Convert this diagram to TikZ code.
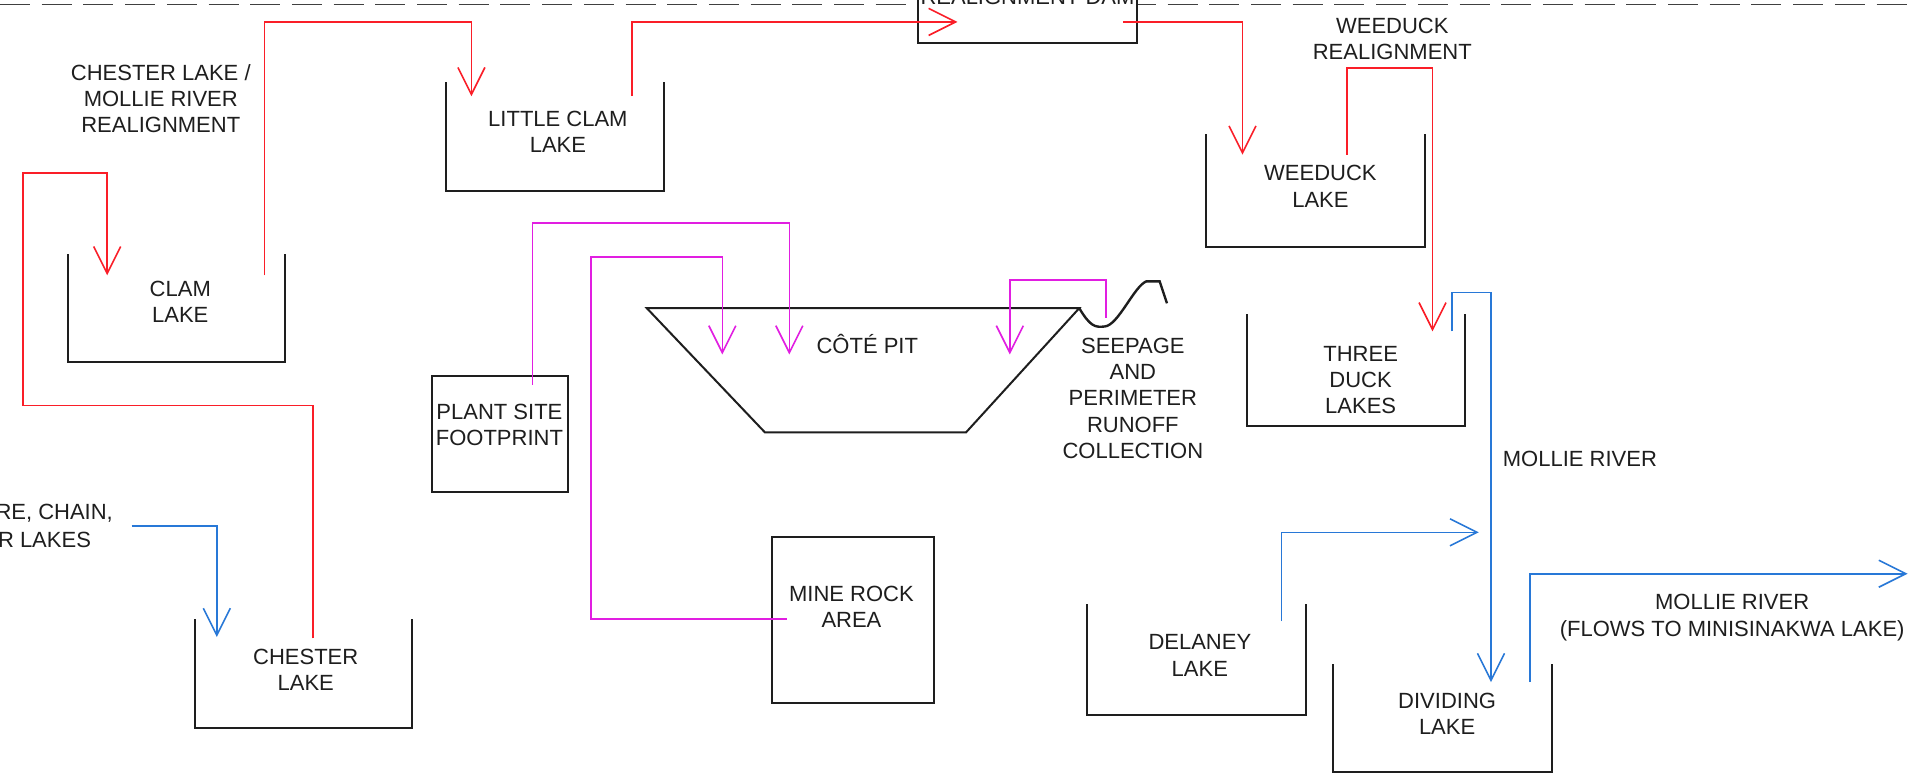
\documentclass[tikz,border=0pt]{standalone}
\usepackage{fontspec}
\setmainfont{Liberation Sans}
\usetikzlibrary{arrows.meta}
\definecolor{flowred}{RGB}{250,30,40}
\definecolor{flowmag}{RGB}{225,30,225}
\definecolor{flowblue}{RGB}{40,120,215}
\definecolor{ink}{RGB}{30,30,30}
\def\myu{0.60906pt}
% name, x1, y1, x2, y2, text x, text y, text
\newcommand\lakenode[8]{%
  \node[minimum width={(#4-#2)*\myu}, minimum height={(#5-#3)*\myu}, inner sep=0pt, outer sep=0pt]
    (#1) at ({(#2+#4)/2},{(#3+#5)/2}) {};
  \draw[lakeline] (#1.north west) -- (#1.south west) -- (#1.south east) -- (#1.north east);
  \node[lbl] (#1lbl) at (#6,#7) {#8};}
\begin{document}
\begin{tikzpicture}[x=0.60906pt,y=-0.60906pt,
  lbl/.style={font=\fontsize{11}{13.2}\selectfont, align=center, inner sep=0pt, text=ink},
  lakeline/.style={draw=ink, line width=1pt, line cap=rect},
  boxnode/.style={draw=ink, line width=1pt, inner sep=0pt, outer sep=0pt},
  flow/.style={line width=0.8pt, -{Straight Barb[length=13.5pt,width=13.5pt]}},
  redflow/.style={flow, draw=flowred},
  magflow/.style={flow, draw=flowmag},
  blueflow/.style={flow, draw=flowblue}]
\path[use as bounding box] (0,0) rectangle (1568,642);
\clip (0,0) rectangle (1568,642);
\fill[white] (0,0) rectangle (1568,642);

% dashed boundary line
\coordinate (dashL) at (0,3.6);
\coordinate (dashR) at (1568,3.6);
\draw[ink!85, line width=0.7pt, dash pattern=on 15pt off 5.85pt] (dashL) -- (dashR);

% realignment dam
\node[boxnode, fill=white, minimum width=179*\myu, minimum height=70*\myu] (dam) at (843.5,0) {};
\node[lbl, anchor=base] (damlbl) at (843.5,3.3) {REALIGNMENT DAM};

% lakes
\lakenode{clam}{56}{209}{234}{297}{148}{248}{CLAM\\LAKE}
\lakenode{littleclam}{366}{68}{545}{157}{458}{108}{LITTLE CLAM\\LAKE}
\lakenode{weeduck}{990}{111}{1170}{203}{1084}{153}{WEEDUCK\\LAKE}
\lakenode{threeduck}{1024}{259}{1203}{350}{1117}{312}{THREE\\DUCK\\LAKES}
\lakenode{chester}{160}{509}{338}{598}{251}{550}{CHESTER\\LAKE}
\lakenode{delaney}{892}{497}{1072}{587}{985}{538}{DELANEY\\LAKE}
\lakenode{dividing}{1094}{546}{1274}{634}{1188}{586}{DIVIDING\\LAKE}

% boxes
\node[boxnode, minimum width=111*\myu, minimum height=95*\myu] (plant) at (410.5,356.5) {};
\node[lbl] (plantlbl) at (410,349) {PLANT SITE\\FOOTPRINT};
\node[boxnode, minimum width=133*\myu, minimum height=136*\myu] (mine) at (700.5,509) {};
\node[lbl] (minelbl) at (699,498) {MINE ROCK\\AREA};

% pit and seepage ditch
\coordinate (pitTL) at (531,253);
\coordinate (pitTR) at (886,253);
\coordinate (pitBR) at (793,355);
\coordinate (pitBL) at (628,355);
\draw[lakeline, line cap=butt, line join=miter] (pitTL) -- (pitTR) -- (pitBR) -- (pitBL) -- cycle;
\draw[ink, line width=1.2pt] (pitTR) .. controls (895,268) and (899,269) .. (907,268)
   .. controls (918,267) and (931,235) .. (941,231) -- (952,231) -- (958,249);
\node[lbl] (pit) at (712,282) {CÔTÉ PIT};

% labels
\node[lbl] (chesterreal) at (132,81) {CHESTER LAKE /\\MOLLIE RIVER\\REALIGNMENT};
\node[lbl] (weeduckreal) at (1143,32) {WEEDUCK\\REALIGNMENT};
\node[lbl] (seepage) at (930,327) {SEEPAGE\\AND\\PERIMETER\\RUNOFF\\COLLECTION};
\node[lbl] (mollie1) at (1297,377) {MOLLIE RIVER};
\node[lbl] (mollie2) at (1422,507) {MOLLIE RIVER\\(FLOWS TO MINISINAKWA LAKE)};
\node[lbl, anchor=east] (leftlbl1) at (93,421) {RE, CHAIN,};
\node[lbl, anchor=east] (leftlbl2) at (75,443) {R LAKES};

% red flows
\coordinate (r1s) at (257,524); \coordinate (r1e) at (88,226);
\draw[redflow] (r1s) -- (257,333) -- (19,333) -- (19,142) -- (88,142) -- (r1e);
\coordinate (r2s) at (217,226); \coordinate (r2e) at (387,79);
\draw[redflow] (r2s) -- (217,18) -- (387,18) -- (r2e);
\coordinate (r3s) at (519,79); \coordinate (r3e) at (786,18);
\draw[redflow] (r3s) -- (519,18) -- (r3e);
\coordinate (r4s) at (922,18); \coordinate (r4e) at (1020,127);
\draw[redflow] (r4s) -- (1020,18) -- (r4e);
\coordinate (r5s) at (1106,127); \coordinate (r5e) at (1176,272);
\draw[redflow] (r5s) -- (1106,56) -- (1176,56) -- (r5e);

% blue flows
\coordinate (b1s) at (108,432); \coordinate (b1e) at (178,523);
\draw[blueflow] (b1s) -- (178,432) -- (b1e);
\coordinate (b2s) at (1192,272); \coordinate (b2e) at (1224,560);
\draw[blueflow] (b2s) -- (1192,240) -- (1224,240) -- (b2e);
\coordinate (b3s) at (1052,510); \coordinate (b3e) at (1214,437);
\draw[blueflow] (b3s) -- (1052,437) -- (b3e);
\coordinate (b4s) at (1256,560); \coordinate (b4e) at (1566,471);
\draw[blueflow] (b4s) -- (1256,471) -- (b4e);

% magenta flows
\coordinate (m1s) at (437,316); \coordinate (m1e) at (648,291);
\draw[magflow] (m1s) -- (437,183) -- (648,183) -- (m1e);
\coordinate (m2s) at (646,508); \coordinate (m2e) at (593,291);
\draw[magflow] (m2s) -- (485,508) -- (485,211) -- (593,211) -- (m2e);
\coordinate (m3s) at (908,261); \coordinate (m3e) at (829,291);
\draw[magflow] (m3s) -- (908,230) -- (829,230) -- (m3e);
\end{tikzpicture}
\end{document}
